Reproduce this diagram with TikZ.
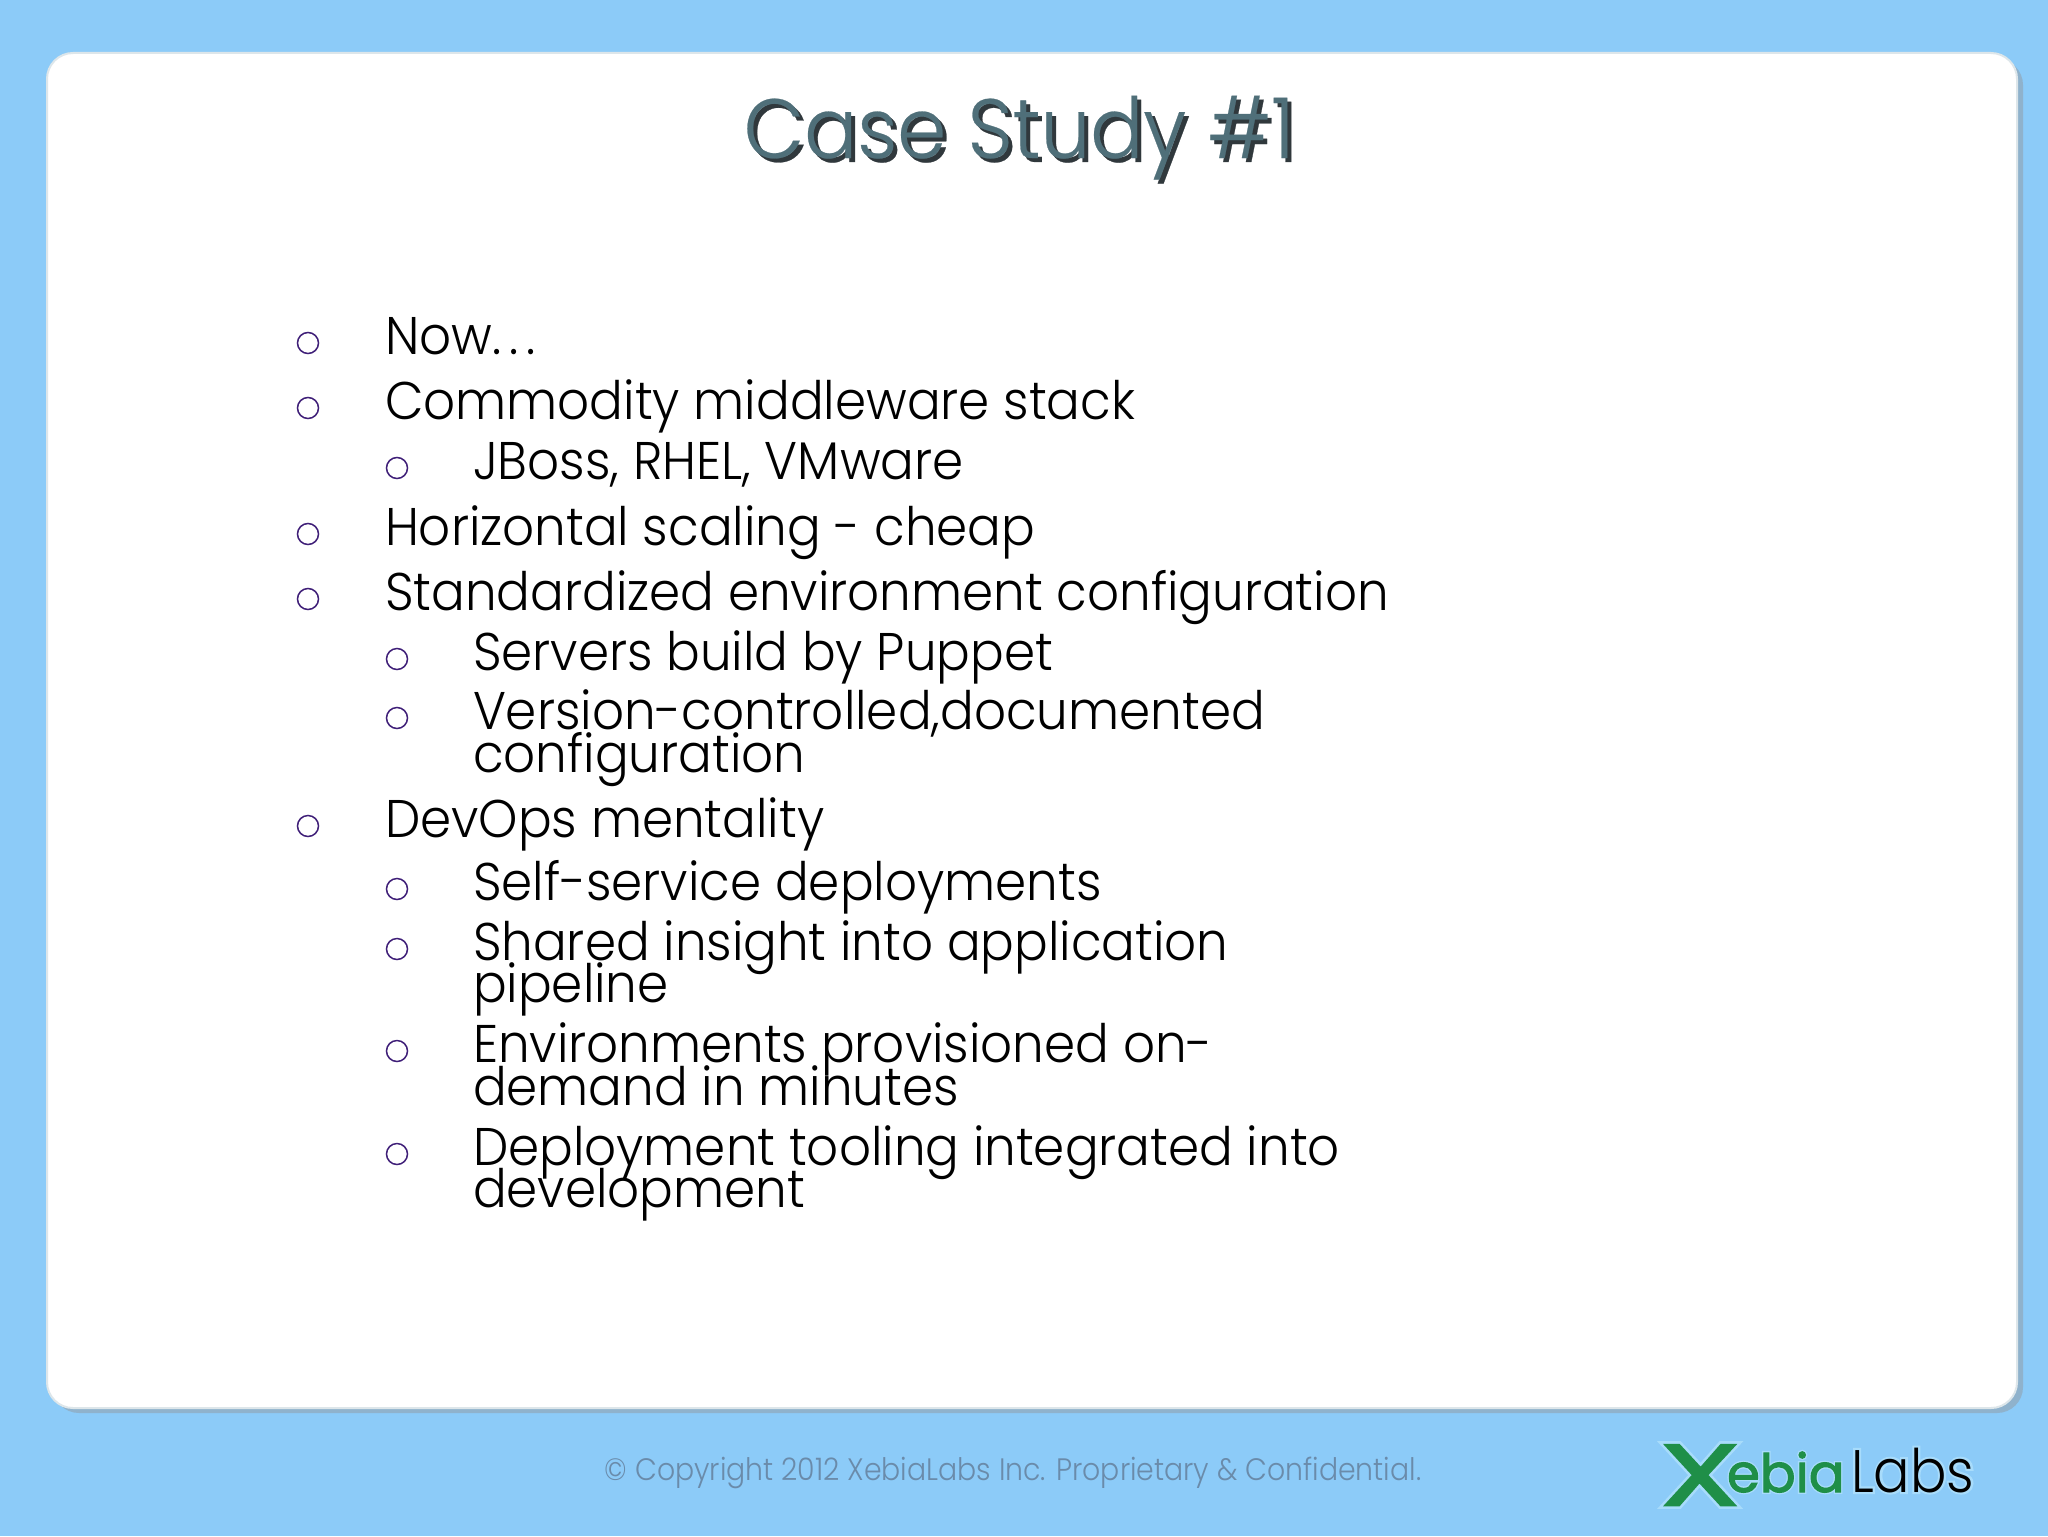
\documentclass[tikz,border=0pt]{standalone}
\usepackage{fontspec}
\usepackage{tikz}
\usetikzlibrary{positioning}
\setmainfont{Poppins Light}[FakeStretch=0.943]
\newfontfamily\titlefont{Poppins Light}[FakeStretch=0.935,FakeBold=0.3]
\newfontfamily\footfont{Poppins Light}[FakeStretch=0.915]
\newfontfamily\bigxfont{Poppins}[FakeStretch=1.5,FakeBold=3]
\newfontfamily\ebiafont{Poppins}[FakeBold=2]
\newfontfamily\labsfont{Poppins Light}[FakeStretch=0.9]
\newfontfamily\halofont{Poppins Light}[FakeStretch=0.9,FakeBold=7]
\newfontfamily\ebiahalofont{Poppins}[FakeBold=7]
\newfontfamily\bigxhalofont{Poppins}[FakeStretch=1.5,FakeBold=9]
\definecolor{skyback}{HTML}{8CCBF8}
\definecolor{cardshade}{HTML}{8FB2CC}
\definecolor{cardedge}{HTML}{DDE6EA}
\definecolor{titleink}{HTML}{4F6F79}
\definecolor{titleshade}{HTML}{30383C}
\definecolor{bulletink}{HTML}{3F1F78}
\definecolor{footink}{HTML}{6A8BAA}
\definecolor{logogreen}{HTML}{1F8F48}
\definecolor{logohalo}{HTML}{A8DCFB}
\tikzset{
  every node/.style={
    inner sep=0pt,
    outer sep=0pt,
  },
  itemtext/.style={
    anchor=base west,
    font=\fontsize{26.5}{26.5}\selectfont,
    text=black,
  },
  bulletmark/.style={
    circle,
    draw=bulletink,
    line width=0.75pt,
    minimum size=10.5pt,
  },
  titletext/.style={
    anchor=base,
    font=\titlefont\fontsize{42}{42}\selectfont,
  },
  labstext/.style={
    anchor=base west,
    font=\labsfont\fontsize{30}{30}\selectfont,
  },
}

\begin{document}
\begin{tikzpicture}[x=0.5pt,y=-0.5pt]
    \useasboundingbox (0,0) rectangle (2048,1536);
    \fill[skyback] (0,0) rectangle (2048,1536);
    \fill[cardshade,rounded corners=13pt] (53,59) rectangle (2023,1413);
    \filldraw[fill=white,draw=cardedge,line width=1pt,rounded corners=13pt] (47,53) rectangle (2017,1408);
    % title
    \node[titletext,text=titleshade] (titleshadow) at (1023,162) {Case Study \#1};
    \node[titletext,text=titleink] (title) at (1019,158) {Case Study \#1};
    % top level items
    \foreach \name/\ypos/\txt in {now/354/{Now{\addfontfeature{LetterSpace=15}...}},
                                  stack/419/{Commodity middleware stack},
                                  scaling/545/{Horizontal scaling - cheap},
                                  config/610/{Standardized environment configuration},
                                  devops/837/{DevOps mentality}} {
      \node[itemtext] (\name) at (385,\ypos) {\txt};
      \node[bulletmark] (b\name) at (308,\ypos-11) {};
    }
    % second level items
    \foreach \name/\ypos/\txt in {jboss/479/{JBoss, RHEL, VMware},
                                  puppet/670/{Servers build by Puppet},
                                  version/729/{Version-controlled,documented},
                                  selfservice/900/{Self-service deployments},
                                  insight/960/{Shared insight into application},
                                  provision/1062/{Environments provisioned on-},
                                  tooling/1165/{Deployment tooling integrated into}} {
      \node[itemtext] (\name) at (473,\ypos) {\txt};
      \node[bulletmark] (b\name) at (397,\ypos-11) {};
    }
    % wrapped lines
    \foreach \name/\ypos/\txt in {versionb/772/{configuration},
                                  insightb/1002/{pipeline},
                                  provisionb/1105/{demand in minutes},
                                  toolingb/1207/{development}} {
      \node[itemtext] (\name) at (473,\ypos) {\txt};
    }
    % footer
    \node[anchor=base,text=footink,font=\footfont\fontsize{15.5}{15.5}\selectfont] (copyright) at (1013,1480) {© Copyright 2012 XebiaLabs Inc. Proprietary \& Confidential.};
    % logo
    \node[labstext,text=logohalo,font=\halofont\fontsize{30}{30}\selectfont] (labshalo) at (1851,1492) {Labs};
    \node[labstext,text=logohalo,font=\ebiahalofont\fontsize{26.5}{26.5}\selectfont] (ebiahalo) at (1727,1492) {ebia};
    \node[anchor=base west,text=logohalo,font=\bigxhalofont\fontsize{43}{43}\selectfont] (bigxhalo) at (1660,1505) {X};
    \node[labstext,text=black] (labs) at (1851,1492) {Labs};
    \node[anchor=base west,text=logogreen,font=\bigxfont\fontsize{43}{43}\selectfont] (bigx) at (1660,1505) {X};
    \node[anchor=base west,text=logogreen,font=\ebiafont\fontsize{26.5}{26.5}\selectfont] (ebia) at (1727,1492) {ebia};
\end{tikzpicture}
\end{document}
